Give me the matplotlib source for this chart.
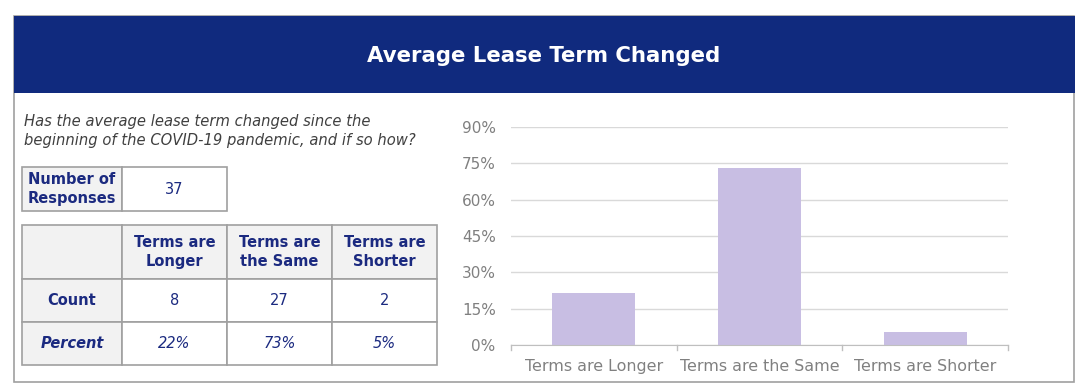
import matplotlib
matplotlib.use('Agg')
import matplotlib.pyplot as plt
from matplotlib.patches import Rectangle

# data
title = "Average Lease Term Changed"
question = "Has the average lease term changed since the\nbeginning of the COVID-19 pandemic, and if so how?"
responses = 37
categories = ["Terms are Longer", "Terms are the Same", "Terms are Shorter"]
table_headers = ["Terms are\nLonger", "Terms are\nthe Same", "Terms are\nShorter"]
counts = [8, 27, 2]
percent_labels = ["22%", "73%", "5%"]
percent_values = [21.6, 73.0, 5.4]
y_ticks = [0, 15, 30, 45, 60, 75, 90]

navy = "#102A7E"
text_navy = "#1B2A80"
bar_color = "#C8BEE3"
line_gray = "#A0A0A0"
cell_gray = "#F2F2F2"
tick_gray = "#808080"
font = "DejaVu Sans"

W, H = 1078, 392
fig = plt.figure(figsize=(W / 100, H / 100), dpi=100)

# overlay axes in pixel coordinates for header, border and tables
ov = fig.add_axes([0, 0, 1, 1])
ov.set_xlim(0, W)
ov.set_ylim(H, 0)
ov.axis('off')

ov.add_patch(Rectangle((14, 16), 1060, 366, facecolor='white', edgecolor=line_gray, lw=1.2))
ov.add_patch(Rectangle((14, 16), 1061, 77, facecolor=navy, edgecolor='none'))
ov.text(544, 56, title, color='white', fontsize=15.3, fontweight='bold',
        ha='center', va='center', family=font)

ov.text(24, 131, question, color='#404040', fontsize=10.6, style='italic',
        ha='left', va='center', family=font, linespacing=1.3)


def cell(x0, y0, x1, y1, text, fill='white', bold=False, italic=False, size=10.5):
    ov.add_patch(Rectangle((x0, y0), x1 - x0, y1 - y0, facecolor=fill,
                           edgecolor=line_gray, lw=1.2))
    if text:
        ov.text((x0 + x1) / 2, (y0 + y1) / 2, text, color=text_navy, fontsize=size,
                fontweight='bold' if bold else 'normal',
                style='italic' if italic else 'normal',
                ha='center', va='center', family=font, linespacing=1.3)


# number of responses box
cell(22, 167, 122, 211, "Number of\nResponses", fill=cell_gray, bold=True)
cell(122, 167, 227, 211, str(responses))

# main table
cols = [22, 122, 227, 332, 437]
rows = [225, 279, 322, 365]
cell(cols[0], rows[0], cols[1], rows[1], "", fill=cell_gray)
cell(cols[0], rows[1], cols[1], rows[2], "Count", fill=cell_gray, bold=True)
cell(cols[0], rows[2], cols[1], rows[3], "Percent", fill=cell_gray, bold=True, italic=True)
for i, hdr in enumerate(table_headers):
    cell(cols[i + 1], rows[0], cols[i + 2], rows[1], hdr, fill=cell_gray, bold=True)
    cell(cols[i + 1], rows[1], cols[i + 2], rows[2], str(counts[i]))
    cell(cols[i + 1], rows[2], cols[i + 2], rows[3], percent_labels[i], italic=True)

# bar chart
ax = fig.add_axes([511 / W, (H - 345) / H, 497 / W, (345 - 127) / H])
x = list(range(len(categories)))
ax.bar(x, percent_values, width=0.5, color=bar_color, zorder=2)
ax.set_xlim(-0.5, len(categories) - 0.5)
ax.set_ylim(0, 90)
ax.set_yticks(y_ticks)
ax.set_yticklabels([f"{t}%" for t in y_ticks])
ax.set_xticks(x)
ax.set_xticklabels(categories)
ax.yaxis.grid(True, color='#D9D9D9', lw=1, zorder=0)
for s in ['top', 'right', 'left']:
    ax.spines[s].set_visible(False)
ax.spines['bottom'].set_color('#BFBFBF')
ax.tick_params(axis='y', length=0, pad=11, labelsize=11, labelcolor=tick_gray)
ax.tick_params(axis='x', length=0, pad=10, labelsize=11.4, labelcolor=tick_gray)
for b in [-0.5, 0.5, 1.5, 2.5]:
    ax.plot([b, b], [0, -2.2], color='#BFBFBF', lw=1, clip_on=False)
for lbl in ax.get_xticklabels() + ax.get_yticklabels():
    lbl.set_family(font)

fig.savefig("out.png", dpi=100)
